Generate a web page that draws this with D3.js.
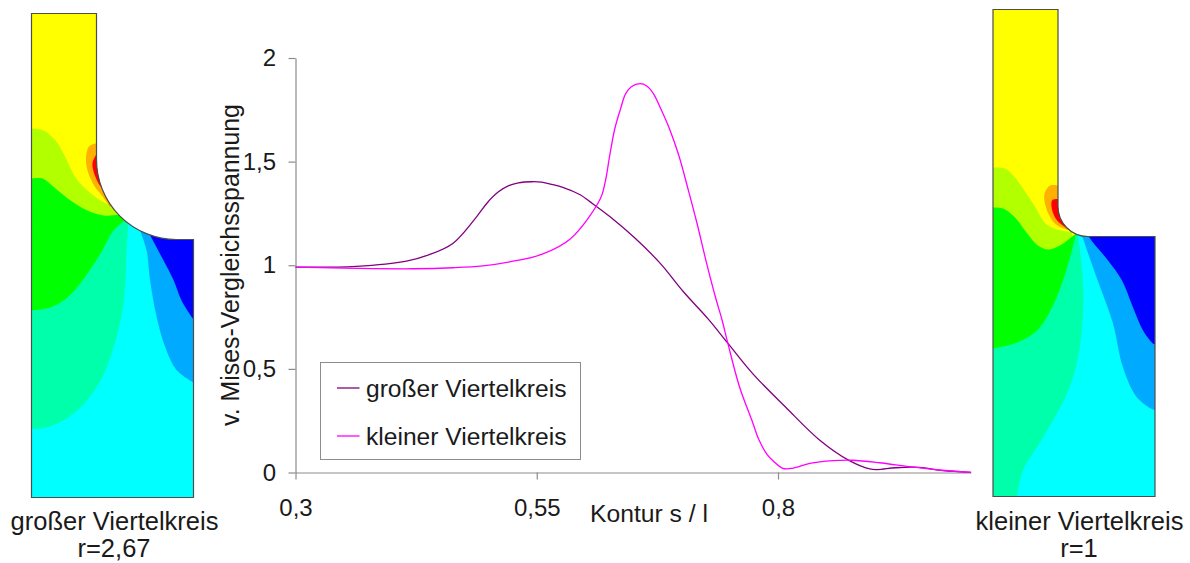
<!DOCTYPE html>
<html><head><meta charset="utf-8">
<script src="https://cdn.jsdelivr.net/npm/d3@7/dist/d3.min.js"></script>
<style>html,body{margin:0;padding:0;background:#fff}svg{display:block}text{font-family:"Liberation Sans",Arial,sans-serif;fill:#1a1a1a}</style>
</head><body><svg id="c" width="1190" height="563"></svg>
<script>
// Chart data
const seriesNames = ["großer Viertelkreis", "kleiner Viertelkreis"];
const grossS = [.30,.363,.415,.438,.463,.487,.499,.510,.521,.531,.545,.555,.563,.577,.595,.605,.626,.652,.678,.702,.728,.748,.774,.808,.843,.874,.895,.903,.922,.946,.971,1.0];
const grossV = [.991,.995,1.02,1.05,1.105,1.23,1.303,1.353,1.384,1.398,1.403,1.401,1.393,1.376,1.34,1.307,1.234,1.13,1.009,.872,.739,.624,.476,.315,.157,.057,.017,.014,.023,.025,.009,.001];
const kleinS = [.30,.363,.422,.463,.494,.523,.555,.585,.616,.621,.626,.631,.637,.642,.648,.657,.664,.671,.679,.688,.697,.707,.716,.726,.735,.742,.748,.760,.774,.780,.789,.795,.805,.815,.833,.857,.877,.905,.936,.967,1.0];
const kleinV = [.991,.985,.983,.988,.997,1.017,1.052,1.128,1.322,1.403,1.54,1.661,1.757,1.827,1.861,1.876,1.865,1.827,1.75,1.653,1.533,1.364,1.204,1.01,.849,.736,.624,.415,.238,.16,.085,.056,.02,.02,.044,.057,.059,.047,.028,.012,.001];
const xTicks = [0.3, 0.55, 0.8];
const xTickLabels = ["0,3", "0,55", "0,8"];
const yTicks = [0, 0.5, 1, 1.5, 2];
const yTickLabels = ["0", "0,5", "1", "1,5", "2"];

// FE contour bands, in model units of each specimen (origin top-left of the specimen)
const bigShape = {colW:65, stepY:226, r:80, W:162, H:484};
const bigLime = [[0,115],[12,117],[24,127],[34,144],[44,164],[56,177],[69,187],[84,195],[96,204]];
const bigLimeClose = [[96,290],[0,290]];
const bigOrange = [[64,130],[57.5,133],[54.5,144.5],[56.5,158.5],[63.5,173.5],[70,181.5],[78.5,193.5]];
const bigOrangeClose = [[110,170],[90,120]];
const bigRed = [[64.5,141.5],[61,149.5],[62.5,159.5],[68,171.5],[72.5,176.5]];
const bigRedClose = [[100,165],[85,130]];
const bigGreen = [[0,165],[11,165],[24,175],[39,187],[56,197],[72,202],[92,202],[96,205]];
const bigGreenClose = [[96,320],[0,320]];
const bigSpring = [[96,205],[82,217],[69,240],[51,267],[36,284],[19,294],[0,297]];
const bigSpringClose = [[0,484],[162,484],[162,205]];
const bigCyan = [[97,205],[95,240],[94,267],[91,297],[82,334],[69,367],[49,394],[26,410],[9,415],[0,415]];
const bigCyanClose = [[0,484],[162,484],[162,205]];
const bigSky = [[108.5,217],[115,236.5],[118.5,266.5],[125,303],[133.5,333],[145,356.5],[162,369]];
const bigSkyClose = [[170,369],[170,205]];
const bigBlue = [[118.5,221.5],[131,245],[142,266.5],[150,287],[162,306]];
const bigBlueClose = [[170,306],[170,205]];

const smallShape = {colW:65, stepY:227, r:30, W:162, H:487};
const smallLime = [[0,158],[12,159],[22,168],[30,179],[42,197],[52,213.5],[62,219.5],[79,222.5]];
const smallLimeClose = [[79,300],[0,300]];
const smallOrange = [[64.7,176],[57,176],[51.3,185.5],[55.3,204],[63.7,215.5],[77,221]];
const smallOrangeClose = [[90,200],[75,170]];
const smallRed = [[64.7,189.5],[59.3,190.5],[58.7,198.5],[63.7,210.5],[75.3,219.8]];
const smallRedClose = [[90,200],[75,185]];
const smallGreen = [[0,198],[10,199],[22,208],[32,221],[45,236],[55,240],[67,236],[82,225],[84,224]];
const smallGreenClose = [[84,350],[0,350]];
const smallSpring = [[83,225],[75,255],[70,271],[59,298],[44,321],[24,333],[0,339]];
const smallSpringClose = [[0,487],[162,487],[162,225]];
const smallCyan = [[85,225],[88,250],[90,275],[90,304],[85,348],[74,384],[50,428],[30,461],[24,487]];
const smallCyanClose = [[170,487],[170,225]];
const smallSky = [[89,226],[100,258],[108,280],[120,314],[130,358],[144,388],[160,400],[162,400]];
const smallSkyClose = [[170,400],[170,225]];
const smallBlue = [[95,226],[100,233],[115,251],[129,271],[140,298],[150,321],[160,334],[162,335]];
const smallBlueClose = [[170,335],[170,225]];

const bandColors = {yellow:"#ffff00", lime:"#b2ff00", orange:"#ffb000", red:"#ff0000", green:"#00ff00", spring:"#00ffaa", cyan:"#00ffff", sky:"#00aaff", blue:"#0000ff"};

const svg = d3.select("#c");
const x = d3.scaleLinear().domain([0.3, 1]).range([295.5, 971]);
const y = d3.scaleLinear().domain([0, 2]).range([472.5, 58]);
const axisColor = "#8c8c8c";

// Axes
const xAxis = svg.append("g").attr("transform", `translate(0,${y(0)})`)
  .call(d3.axisBottom(x).tickValues(xTicks).tickFormat((d,i)=>xTickLabels[i]).tickSize(7).tickSizeOuter(0).tickPadding(19));
const yAxis = svg.append("g").attr("transform", `translate(${x(0.3)},0)`)
  .call(d3.axisLeft(y).tickValues(yTicks).tickFormat((d,i)=>yTickLabels[i]).tickSize(7).tickSizeOuter(0).tickPadding(12.5));
[xAxis,yAxis].forEach(a=>{
  a.selectAll("path,line").attr("stroke",axisColor).attr("stroke-width",1.2);
  a.selectAll("text").style("font-size","24px").attr("fill","#1a1a1a");
});

// Lines
const line = d3.line().x(d=>x(d[0])).y(d=>y(d[1])).curve(d3.curveCatmullRom.alpha(0.5));
const colors = ["#800080", "#ff00ff"];
[[grossS,grossV],[kleinS,kleinV]].forEach((s,i)=>{
  svg.append("path").attr("d", line(d3.zip(s[0],s[1]))).attr("fill","none")
    .attr("stroke",colors[i]).attr("stroke-width",1.3).attr("stroke-linejoin","round");
});

// Axis titles
svg.append("text").attr("x",649).attr("y",522).attr("text-anchor","middle").style("font-size","24.7px").text("Kontur s / l");
svg.append("text").attr("transform","translate(239,265) rotate(-90)").attr("text-anchor","middle").style("font-size","24.9px").text("v. Mises-Vergleichsspannung");

// Legend
const lx = d3.scaleLinear().domain([0,1]).range([320.5,580.5]);
const ly = d3.scaleLinear().domain([0,1]).range([362.5,459.5]);
svg.append("rect").attr("x",lx(0)).attr("y",ly(0)).attr("width",lx(1)-lx(0)).attr("height",ly(1)-ly(0))
  .attr("fill","#fff").attr("stroke","#8c8c8c").attr("stroke-width",1);
seriesNames.forEach((n,i)=>{
  const yy = i===0 ? 388 : 436;
  svg.append("line").attr("x1",337).attr("x2",359.5).attr("y1",yy).attr("y2",yy).attr("stroke",colors[i]).attr("stroke-width",1.3);
  svg.append("text").attr("x",366).attr("y",yy+8.5).style("font-size","24.6px").text(n);
});

// Specimens
function specimen(id, ox, oy, shape, layers, labels){
  const sx = d3.scaleLinear().domain([0,shape.W]).range([ox,ox+shape.W]);
  const sy = d3.scaleLinear().domain([0,shape.H]).range([oy,oy+shape.H]);
  const p = d3.path();
  p.moveTo(sx(0),sy(0)); p.lineTo(sx(shape.colW),sy(0)); p.lineTo(sx(shape.colW),sy(shape.stepY-shape.r));
  p.arc(sx(shape.colW+shape.r),sy(shape.stepY-shape.r),shape.r,Math.PI,Math.PI/2,true);
  p.lineTo(sx(shape.W),sy(shape.stepY)); p.lineTo(sx(shape.W),sy(shape.H)); p.lineTo(sx(0),sy(shape.H)); p.closePath();
  const outline = p.toString();
  svg.append("clipPath").attr("id",id).append("path").attr("d",outline);
  const g = svg.append("g").attr("clip-path",`url(#${id})`);
  g.append("path").attr("d",outline).attr("fill",bandColors.yellow);
  const edge = d3.line().x(d=>sx(d[0])).y(d=>sy(d[1])).curve(d3.curveCatmullRom);
  layers.forEach(l=>{
    const close = l.close.map(d=>`L${sx(d[0])},${sy(d[1])}`).join("");
    g.append("path").attr("d",edge(l.edge)+close+"Z").attr("fill",bandColors[l.color]);
  });
  svg.append("path").attr("d",outline).attr("fill","none").attr("stroke","#4d4d4d").attr("stroke-width",1.2);
  labels.forEach(t=>svg.append("text").attr("x",t[0]).attr("y",t[1]).attr("text-anchor","middle").style("font-size","25.5px").text(t[2]));
}
specimen("clipBig",31.5,13.5,bigShape,[
  {color:"lime",edge:bigLime,close:bigLimeClose},
  {color:"orange",edge:bigOrange,close:bigOrangeClose},
  {color:"red",edge:bigRed,close:bigRedClose},
  {color:"green",edge:bigGreen,close:bigGreenClose},
  {color:"spring",edge:bigSpring,close:bigSpringClose},
  {color:"cyan",edge:bigCyan,close:bigCyanClose},
  {color:"sky",edge:bigSky,close:bigSkyClose},
  {color:"blue",edge:bigBlue,close:bigBlueClose}
],[[114.5,530,"großer Viertelkreis"],[114,557,"r=2,67"]]);
specimen("clipSmall",993,9.5,smallShape,[
  {color:"lime",edge:smallLime,close:smallLimeClose},
  {color:"orange",edge:smallOrange,close:smallOrangeClose},
  {color:"red",edge:smallRed,close:smallRedClose},
  {color:"green",edge:smallGreen,close:smallGreenClose},
  {color:"spring",edge:smallSpring,close:smallSpringClose},
  {color:"cyan",edge:smallCyan,close:smallCyanClose},
  {color:"sky",edge:smallSky,close:smallSkyClose},
  {color:"blue",edge:smallBlue,close:smallBlueClose}
],[[1079.5,530,"kleiner Viertelkreis"],[1079,557,"r=1"]]);
</script></body></html>
